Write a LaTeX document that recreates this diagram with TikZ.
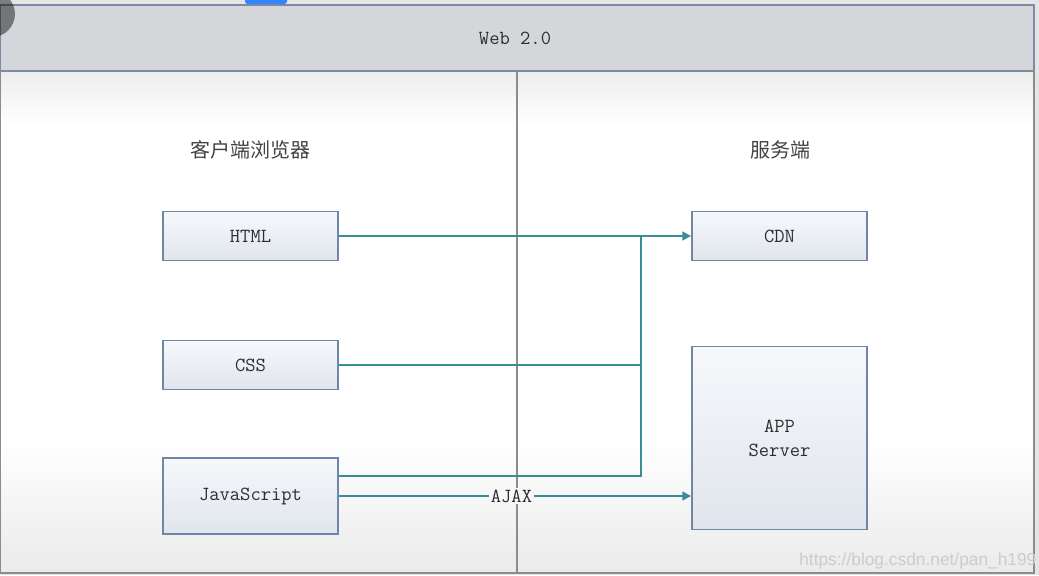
\documentclass[tikz,border=0pt]{standalone}
\usepackage{fontspec}
\newfontfamily\cjk{Noto Sans CJK SC}
\newfontfamily\wmfont{Liberation Sans}
\usetikzlibrary{arrows.meta,calc}
\definecolor{teal1}{HTML}{3A8C96}
\definecolor{boxline}{HTML}{6F86A6}
\definecolor{boxtop}{HTML}{F6F8FB}
\definecolor{boxbot}{HTML}{E0E5ED}
\definecolor{txt}{HTML}{2E2E2E}
\definecolor{hdrfill}{HTML}{D4D6DA}
\definecolor{hdrline}{HTML}{7D8AA3}
\definecolor{divline}{HTML}{8C8C8C}
\newcommand\codefnt{\ttfamily\fontsize{15}{18}\selectfont\addfontfeatures{FakeBold=1}}
\tikzset{
  techbox/.style={draw=boxline, line width=1.1pt, top color=boxtop, bottom color=boxbot,
    minimum width=131.5pt, minimum height=37pt, inner sep=2pt,
    font=\codefnt, text=txt, align=center},
  conn/.style={draw=teal1, line width=1.5pt},
  arrowtip/.style={-{Triangle[length=6.5pt,width=6.5pt]}},
  cjklabel/.style={font=\cjk\fontsize{15}{18}\selectfont, text=txt!90!white},
  ajaxlabel/.style={fill=white!97!black, inner sep=1.5pt, font=\codefnt, text=txt}
}
\begin{document}
\begin{tikzpicture}[x=0.75pt,y=-0.75pt]
\useasboundingbox (0,0) rectangle (1039,575);
% backdrop
\fill[black!10] (0,0) rectangle (1039,575);
% body
\fill[white] (0,71) rectangle (1034,573);
\shade[top color=black!7, bottom color=white] (0,71) rectangle (1034,125);
\shade[top color=white, bottom color=black!8] (0,440) rectangle (1034,573);
\draw[divline, line width=1pt] (0,71) rectangle (1034,573);
% header
\draw[fill=hdrfill, draw=hdrline, line width=1.1pt] (0,5) rectangle (1034,71);
\node[font=\codefnt, text=txt] (title) at (515,38) {Web 2.0};
% divider
\draw[divline, line width=1pt] (517,72) -- (517,573);
% section labels
\node[cjklabel] (client) at (250,150) {客户端浏览器};
\node[cjklabel] (server) at (780,150) {服务端};
% boxes
\node[techbox] (html) at (250.5,236) {HTML};
\node[techbox] (css) at (250.5,365) {CSS};
\node[techbox, minimum height=57pt] (js) at (250.5,496) {JavaScript};
\node[techbox] (cdn) at (779.5,236) {CDN};
\node[techbox, minimum height=137pt] (app) at (779.5,438) {APP\\Server};
% connectors
\coordinate (junc) at (641,236);
\draw[conn, arrowtip] (html.east) -- (cdn.west);
\draw[conn] (css.east) -| (junc);
\draw[conn] ([yshift=15pt]js.east) -| (junc);
\draw[conn, arrowtip] (js.east) -- node[ajaxlabel, pos=0.49] (ajax) {AJAX} (app.west |- js.east);
% screen artefacts
\fill[blue!60!cyan!80!white, rounded corners=2pt] (245,-4) rectangle (287,4);
\fill[black, opacity=0.45] (-8,14) circle (23);
\node[font=\wmfont\fontsize{13}{16}\selectfont, text=white!80!black, anchor=east, inner sep=1pt] (wm) at (1038,561) {https://blog.csdn.net/pan\_h199};
\end{tikzpicture}
\end{document}
